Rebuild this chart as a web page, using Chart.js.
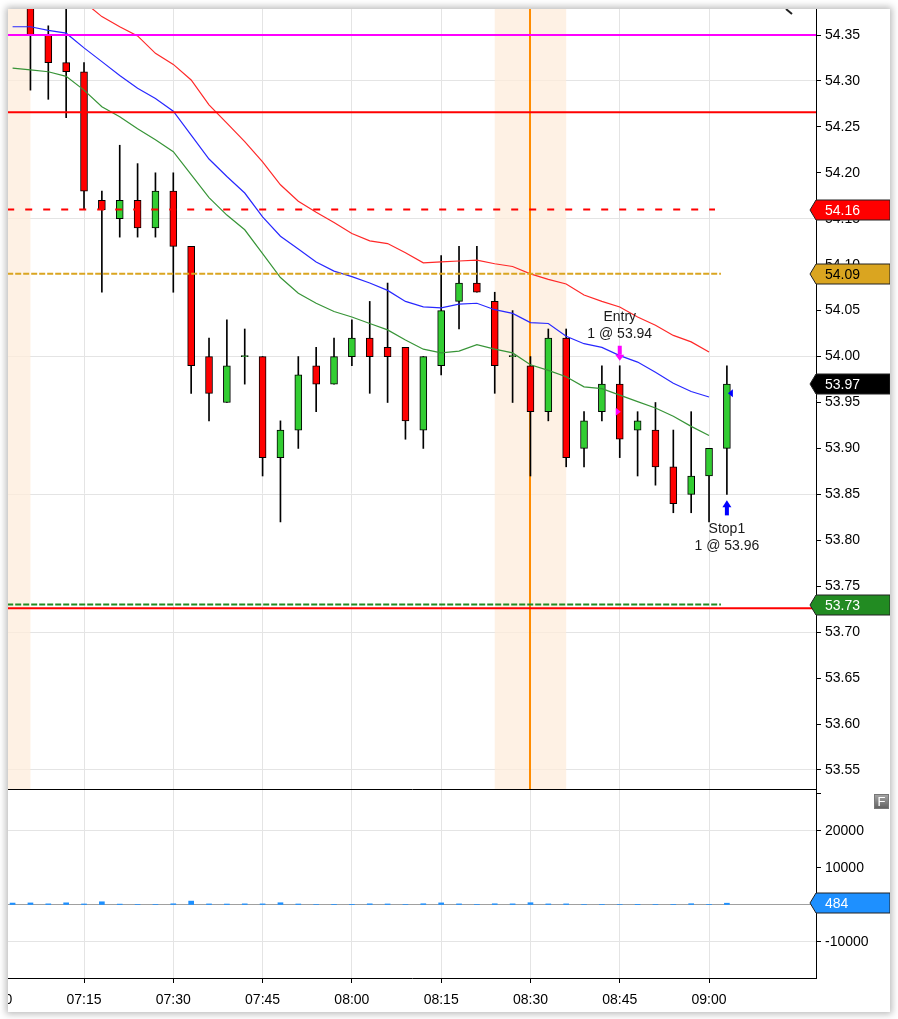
<!DOCTYPE html>
<html>
<head>
<meta charset="utf-8">
<script src="https://cdn.jsdelivr.net/npm/chart.js@4.4.0/dist/chart.umd.min.js"></script>
<style>
html, body { margin: 0; padding: 0; background: #fff; }
#frame { position: absolute; left: 8px; top: 9px; width: 882px; height: 1003px; background: #fff;
         box-shadow: 0 0 7px 2px rgba(0, 0, 0, 0.28); }
canvas { display: block; }
</style>
</head>
<body>
<div id="frame"><canvas id="chart" width="882" height="1003"></canvas></div>
<script>
// 3 minute bars
const times = ['07:03','07:06','07:09','07:12','07:15','07:18','07:21','07:24','07:27','07:30',
               '07:33','07:36','07:39','07:42','07:45','07:48','07:51','07:54','07:57','08:00',
               '08:03','08:06','08:09','08:12','08:15','08:18','08:21','08:24','08:27','08:30',
               '08:33','08:36','08:39','08:42','08:45','08:48','08:51','08:54','08:57','09:00','09:03'];
const open  = [54.43,54.40,54.35,54.32,54.31,54.17,54.15,54.17,54.14,54.18,
               54.12,54.00,53.95,54.00,54.00,53.89,53.92,53.99,53.97,54.00,
               54.02,54.01,54.01,53.92,53.99,54.06,54.08,54.06,54.00,53.99,
               53.94,54.02,53.90,53.94,53.97,53.92,53.92,53.88,53.85,53.87,53.90];
const high  = [54.44,54.41,54.36,54.39,54.32,54.18,54.23,54.21,54.20,54.20,
               54.12,54.02,54.04,54.03,54.00,53.93,54.00,54.01,54.02,54.04,
               54.06,54.08,54.01,54.00,54.11,54.12,54.12,54.07,54.05,54.00,
               54.03,54.03,53.94,53.99,53.99,53.94,53.95,53.92,53.94,53.90,53.99];
const low   = [54.385,54.29,54.28,54.26,54.16,54.07,54.13,54.13,54.13,54.07,
               53.96,53.93,53.95,53.97,53.87,53.82,53.90,53.94,53.97,53.99,
               53.96,53.95,53.91,53.90,53.98,54.03,54.07,53.96,53.95,53.87,
               53.93,53.88,53.88,53.93,53.89,53.87,53.86,53.83,53.83,53.82,53.85];
const close = [54.40,54.35,54.32,54.31,54.18,54.16,54.17,54.14,54.18,54.12,
               53.99,53.96,53.99,54.00,53.89,53.92,53.98,53.97,54.00,54.02,
               54.00,54.00,53.93,54.00,54.05,54.08,54.07,53.99,54.00,53.94,
               54.02,53.89,53.93,53.97,53.91,53.93,53.88,53.84,53.87,53.90,53.97];
const volume = [520,560,310,590,280,870,240,120,150,330,
                1050,290,260,310,300,610,270,140,110,90,
                320,280,130,340,570,300,120,330,310,620,
                290,300,140,110,130,90,150,120,350,160,484];
const maRed   = [54.430,54.420,54.410,54.400,54.386,54.370,54.359,54.349,54.330,54.318,
                 54.301,54.274,54.254,54.234,54.212,54.187,54.169,54.157,54.146,54.134,
                 54.126,54.123,54.113,54.102,54.103,54.104,54.105,54.101,54.098,54.090,
                 54.084,54.079,54.067,54.060,54.054,54.043,54.034,54.023,54.016,54.005,null];
const maBlue  = [54.359,54.359,54.355,54.352,54.336,54.321,54.306,54.292,54.281,54.267,
                 54.241,54.215,54.196,54.178,54.152,54.131,54.117,54.103,54.093,54.087,
                 54.080,54.072,54.060,54.054,54.053,54.057,54.058,54.051,54.047,54.037,
                 54.036,54.022,54.014,54.010,54.001,53.994,53.983,53.971,53.962,53.956,null];
const maGreen = [54.314,54.312,54.310,54.305,54.290,54.272,54.261,54.248,54.236,54.223,
                 54.198,54.173,54.154,54.138,54.112,54.086,54.069,54.058,54.049,54.043,
                 54.036,54.029,54.018,54.008,54.004,54.006,54.013,54.008,54.004,53.991,
                 53.985,53.978,53.967,53.965,53.958,53.951,53.944,53.935,53.924,53.914,null];

const timeTicks = ['07:00','07:15','07:30','07:45','08:00','08:15','08:30','08:45','09:00'];
const volTicks = [-10000, 0, 10000, 20000, 30000];

// horizontal levels: value, until, colour, dash
const levelValues = [54.35, 54.266, 54.16, 54.09, 53.73, 53.726];
const levelUntil  = ['09:18', '09:18', '09:01', '09:02', '09:02', '09:18'];
const levelColors = ['#ff00ff', '#ff0000', '#ff0000', '#daa520', '#228b22', '#ff0000'];
const levelDashes = [[], [], [7, 11], [6, 2], [6, 2], []];

const shadeRanges = [['06:54', '07:06'], ['08:24', '08:36']];
const markerTime = '08:30';

const entry = { time: '08:45', price: 53.94, lines: ['Entry', '1 @ 53.94'] };
const stop  = { time: '09:03', price: 53.96, lines: ['Stop1', '1 @ 53.96'] };

const FONT = '"Liberation Sans", Arial, sans-serif';
const toMin = t => { const [h, m] = t.split(':').map(Number); return (h - 7) * 60 + m; };
const fmtMin = v => { const h = 7 + Math.floor(v / 60), m = v % 60; return String(h).padStart(2, '0') + ':' + String(m).padStart(2, '0'); };
const mins = times.map(toMin);
const last = times.length - 1;

const tags = [
  { axis: 'y',   value: 54.16,       text: '54.16', bg: '#ff0000', fg: '#fff' },
  { axis: 'y',   value: 54.09,       text: '54.09', bg: '#daa520', fg: '#000' },
  { axis: 'y',   value: close[last], text: close[last].toFixed(2), bg: '#000', fg: '#fff' },
  { axis: 'y',   value: 53.73,       text: '53.73', bg: '#228b22', fg: '#fff' },
  { axis: 'vol', value: volume[last], text: String(volume[last]), bg: '#1e90ff', fg: '#fff' }
];

const datasets = [];
levelValues.forEach((v, i) => {
  datasets.push({
    type: 'line', yAxisID: 'y', order: 1,
    data: [{ x: -10, y: v }, { x: toMin(levelUntil[i]), y: v }],
    borderColor: levelColors[i], borderWidth: 2, borderDash: levelDashes[i],
    pointRadius: 0
  });
});
[[maRed, '#ff2828'], [maBlue, '#2828ff'], [maGreen, '#379437']].forEach(([arr, col]) => {
  datasets.push({
    type: 'line', yAxisID: 'y', order: 2,
    data: arr.map((v, i) => ({ x: mins[i], y: v })),
    borderColor: col, borderWidth: 1.2, pointRadius: 0, tension: 0, spanGaps: false
  });
});
datasets.push({
  type: 'bar', yAxisID: 'y', order: 3, grouped: false,
  data: mins.map((m, i) => ({ x: m, y: [open[i], close[i]] })),
  backgroundColor: close.map((c, i) => c >= open[i] ? '#32cd32' : '#ff0000'),
  borderColor: '#000', borderWidth: 1, borderSkipped: false,
  barThickness: 7, minBarLength: 1
});
datasets.push({
  type: 'bar', yAxisID: 'y', order: 4, grouped: false,
  data: mins.map((m, i) => ({ x: m, y: [low[i], high[i]] })),
  backgroundColor: '#000', borderWidth: 0, barThickness: 1
});
datasets.push({
  type: 'bar', yAxisID: 'vol', order: 5, grouped: false,
  data: mins.map((m, i) => ({ x: m, y: volume[i] })),
  backgroundColor: '#1e90ff', borderWidth: 0, barThickness: 5
});

function drawTag(ctx, left, right, yp, tg) {
  ctx.beginPath();
  ctx.moveTo(left - 6, yp);
  ctx.lineTo(left, yp - 10);
  ctx.lineTo(right, yp - 10);
  ctx.lineTo(right, yp + 10);
  ctx.lineTo(left, yp + 10);
  ctx.closePath();
  ctx.fillStyle = tg.bg;
  ctx.fill();
  ctx.strokeStyle = '#222';
  ctx.lineWidth = 1;
  ctx.stroke();
  ctx.fillStyle = tg.fg;
  ctx.font = '14px ' + FONT;
  ctx.textAlign = 'left';
  ctx.textBaseline = 'middle';
  ctx.fillText(tg.text, left + 9, yp + 1);
}

const overlay = {
  id: 'overlay',
  beforeDatasetsDraw(chart) {
    const { ctx } = chart, x = chart.scales.x, y = chart.scales.y;
    ctx.save();
    ctx.beginPath();
    ctx.rect(x.left, y.top, x.right - x.left, y.bottom - y.top);
    ctx.clip();
    ctx.fillStyle = 'rgba(253, 236, 218, 0.72)';
    shadeRanges.forEach(([a, b]) => {
      const x0 = x.getPixelForValue(toMin(a)), x1 = x.getPixelForValue(toMin(b));
      ctx.fillRect(x0, y.top, x1 - x0, y.bottom - y.top);
    });
    const xm = Math.round(x.getPixelForValue(toMin(markerTime)));
    ctx.strokeStyle = '#ff8c00';
    ctx.lineWidth = 2;
    ctx.beginPath();
    ctx.moveTo(xm, y.top);
    ctx.lineTo(xm, y.bottom);
    ctx.stroke();
    ctx.restore();
  },
  afterDraw(chart) {
    const { ctx } = chart, x = chart.scales.x, y = chart.scales.y, vol = chart.scales.vol;
    ctx.save();
    // pane separator
    ctx.strokeStyle = '#000';
    ctx.lineWidth = 1;
    ctx.beginPath();
    ctx.moveTo(x.left, Math.round(y.bottom) + 0.5);
    ctx.lineTo(x.right + 1, Math.round(y.bottom) + 0.5);
    ctx.stroke();

    // entry / stop markers
    const ie = times.indexOf(entry.time), is = times.indexOf(stop.time);
    const xe = x.getPixelForValue(toMin(entry.time)), xs = x.getPixelForValue(toMin(stop.time));
    const ye = y.getPixelForValue(entry.price), ys = y.getPixelForValue(stop.price);
    ctx.fillStyle = '#ff00ff';
    ctx.beginPath();
    ctx.moveTo(xe - 4, ye - 4); ctx.lineTo(xe + 1, ye); ctx.lineTo(xe - 4, ye + 4); ctx.closePath();
    ctx.fill();
    ctx.fillStyle = '#0000ff';
    ctx.beginPath();
    ctx.moveTo(xs + 6, ys - 4); ctx.lineTo(xs + 1, ys); ctx.lineTo(xs + 6, ys + 4); ctx.closePath();
    ctx.fill();

    // entry arrow (down) above bar high
    const tipE = y.getPixelForValue(high[ie]) - 5;
    ctx.fillStyle = '#ff00ff';
    ctx.fillRect(xe - 2, tipE - 15, 4, 9);
    ctx.beginPath();
    ctx.moveTo(xe - 4.5, tipE - 6); ctx.lineTo(xe + 4.5, tipE - 6); ctx.lineTo(xe, tipE); ctx.closePath();
    ctx.fill();
    // stop arrow (up) below bar low
    const tipS = y.getPixelForValue(low[is]) + 6;
    ctx.fillStyle = '#0000ff';
    ctx.fillRect(xs - 2, tipS + 6, 4, 9);
    ctx.beginPath();
    ctx.moveTo(xs - 4.5, tipS + 7); ctx.lineTo(xs + 4.5, tipS + 7); ctx.lineTo(xs, tipS); ctx.closePath();
    ctx.fill();

    ctx.fillStyle = '#1a1a1a';
    ctx.font = '14px ' + FONT;
    ctx.textAlign = 'center';
    ctx.textBaseline = 'middle';
    ctx.fillText(entry.lines[0], xe, tipE - 44);
    ctx.fillText(entry.lines[1], xe, tipE - 27);
    ctx.fillText(stop.lines[0], xs, tipS + 29);
    ctx.fillText(stop.lines[1], xs, tipS + 46);

    // small drawing-tool mark top right
    ctx.strokeStyle = '#222';
    ctx.lineWidth = 2;
    ctx.beginPath();
    ctx.moveTo(778, y.top);
    ctx.lineTo(784, y.top + 5);
    ctx.stroke();

    // price / volume tags
    tags.forEach(tg => {
      const sc = chart.scales[tg.axis];
      drawTag(ctx, Math.round(sc.left), chart.width, Math.round(sc.getPixelForValue(tg.value)), tg);
    });

    // "F" button of the volume pane
    const bx = chart.width - 16, by = Math.round(vol.top) + 5;
    const g = ctx.createLinearGradient(0, by, 0, by + 15);
    g.addColorStop(0, '#a8a8a8');
    g.addColorStop(1, '#5e5e5e');
    ctx.fillStyle = g;
    ctx.fillRect(bx, by, 15, 15);
    ctx.strokeStyle = '#777';
    ctx.lineWidth = 1;
    ctx.strokeRect(bx + 0.5, by + 0.5, 14, 14);
    ctx.fillStyle = '#fff';
    ctx.font = '13px ' + FONT;
    ctx.textAlign = 'center';
    ctx.fillText('F', bx + 7.5, by + 8);
    ctx.restore();
  }
};

const tickFont = { family: FONT, size: 14 };
const noPad = s => { s.paddingTop = 0; s.paddingBottom = 0; s.paddingLeft = 0; s.paddingRight = 0; };

new Chart(document.getElementById('chart'), {
  data: { datasets },
  options: {
    responsive: false,
    animation: false,
    events: [],
    layout: { padding: 0, autoPadding: false },
    plugins: { legend: { display: false }, tooltip: { enabled: false } },
    scales: {
      x: {
        type: 'linear', min: 2.23, max: 137.97, offset: false,
        afterBuildTicks: s => { s.ticks = timeTicks.map(t => ({ value: toMin(t) })); },
        afterFit: s => { s.height = 34; noPad(s); },
        ticks: { callback: v => fmtMin(v), font: tickFont, color: '#000', maxRotation: 0, autoSkip: false, padding: 9 },
        grid: { color: '#e4e4e4', tickColor: '#000', tickLength: 5, offset: false },
        border: { color: '#000' }
      },
      y: {
        type: 'linear', position: 'right', stack: 'panes', stackWeight: 780,
        min: 53.5293, max: 54.3783,
        afterFit: s => { s.width = 74; noPad(s); },
        ticks: { stepSize: 0.05, includeBounds: false, callback: v => v.toFixed(2), font: tickFont, color: '#000', padding: 4 },
        grid: {
          color: c => (Math.round(c.tick.value * 100) % 15 === 0 ? '#e4e4e4' : 'rgba(0,0,0,0)'),
          tickColor: '#000', tickLength: 5
        },
        border: { color: '#000' }
      },
      vol: {
        type: 'linear', position: 'right', stack: 'panes', stackWeight: 189,
        min: -19730, max: 31351,
        afterFit: s => { s.width = 74; noPad(s); },
        afterBuildTicks: s => { s.ticks = volTicks.map(v => ({ value: v })); },
        ticks: { callback: v => (v === 0 || v === 30000 ? '' : String(v)), font: tickFont, color: '#000', padding: 4 },
        grid: {
          color: c => (c.tick.value === 0 ? '#a0a0a0' : (c.tick.value === 20000 || c.tick.value === -10000) ? '#e4e4e4' : 'rgba(0,0,0,0)'),
          tickColor: '#000', tickLength: 5
        },
        border: { color: '#000' }
      }
    }
  },
  plugins: [overlay]
});
</script>
</body>
</html>
